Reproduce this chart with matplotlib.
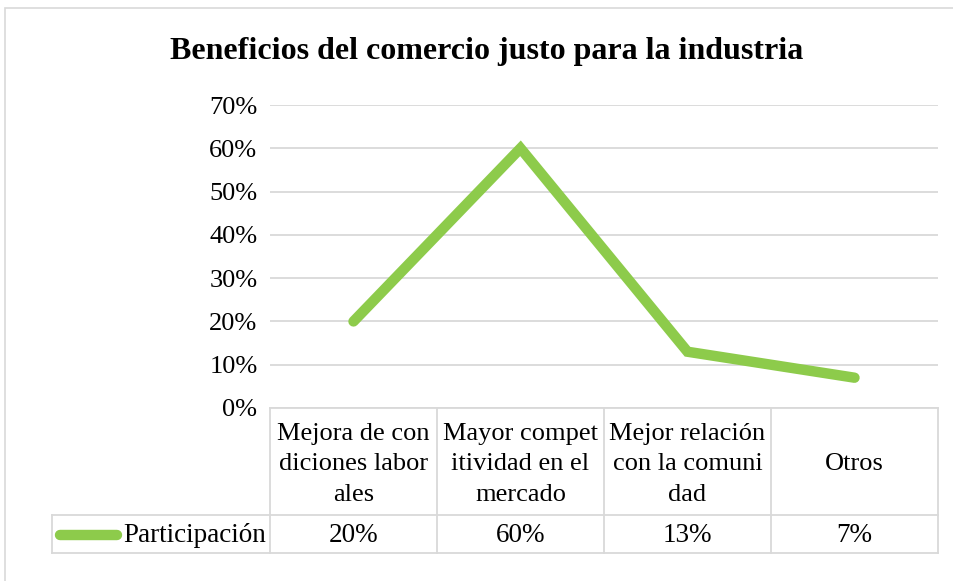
import matplotlib
matplotlib.use("Agg")
import matplotlib.pyplot as plt
from matplotlib.patches import Rectangle
from matplotlib.lines import Line2D

categories = ["Mejora de con\ndiciones labor\nales",
              "Mayor compet\nitividad en el\nmercado",
              "Mejor relación\ncon la comuni\ndad",
              "Otros"]
values = [0.20, 0.60, 0.13, 0.07]
value_labels = ["20%", "60%", "13%", "7%"]
series_name = "Participación"
title = "Beneficios del comercio justo para la industria"

green = "#8DCB4B"
grid = "#D9D9D9"
W, H = 954, 581
plt.rcParams['font.family'] = ['Liberation Serif', 'DejaVu Serif']

fig = plt.figure(figsize=(W / 100, H / 100), dpi=100)

def fx(px):
    return px / W

def fy(py):
    return 1 - py / H

# plot area in pixels
x0, x1, ytop, ybot = 270, 938, 105, 408
ax = fig.add_axes([fx(x0), fy(ybot), fx(x1) - fx(x0), fy(ytop) - fy(ybot)])
n = len(categories)
ax.set_xlim(0, n)
ax.set_ylim(0, 0.7)
ax.set_yticks([i / 10 for i in range(8)])
ax.set_yticklabels(["%d%%" % (i * 10) for i in range(8)], fontsize=19)
ax.tick_params(axis='y', length=0, pad=9)
ax.set_xticks([])
for s in ax.spines.values():
    s.set_visible(False)
ax.grid(axis='y', color=grid, linewidth=1.3)
ax.set_axisbelow(True)
xs = [i + 0.5 for i in range(n)]
ax.plot(xs, values, color=green, linewidth=7.5, solid_capstyle='round',
        solid_joinstyle='miter', clip_on=False)

fig.text(fx(487), fy(51), title, ha='center', va='center', fontsize=23,
         fontweight='bold')

# data table under the chart
lw = 1.3
col_edges = [x0 + (x1 - x0) * i / n for i in range(n + 1)]
row_mid, row_bot, tab_left = 515, 553, 52
for xe in col_edges:
    fig.add_artist(Line2D([fx(xe), fx(xe)], [fy(ybot), fy(row_bot)], color=grid, lw=lw))
fig.add_artist(Line2D([fx(tab_left), fx(tab_left)], [fy(row_mid), fy(row_bot)], color=grid, lw=lw))
fig.add_artist(Line2D([fx(x0), fx(x1)], [fy(ybot), fy(ybot)], color=grid, lw=lw))
for yy in (row_mid, row_bot):
    fig.add_artist(Line2D([fx(tab_left), fx(x1)], [fy(yy), fy(yy)], color=grid, lw=lw))

for i, cat in enumerate(categories):
    cx = (col_edges[i] + col_edges[i + 1]) / 2
    fig.text(fx(cx), fy((ybot + row_mid) / 2 + 3), cat, ha='center', va='center',
             fontsize=19, linespacing=1.5)
    fig.text(fx(cx), fy((row_mid + row_bot) / 2 + 1), value_labels[i], ha='center',
             va='center', fontsize=19.5)

fig.add_artist(Line2D([fx(60), fx(117)], [fy(535), fy(535)], color=green, lw=7.5,
                      solid_capstyle='round'))
fig.text(fx(123), fy(535), series_name, ha='left', va='center', fontsize=19.5)

# chart border
fig.add_artist(Rectangle((fx(5), -0.1), 1.2, fy(8) + 0.1, fill=False,
                         edgecolor="#D9D9D9", lw=1.2, transform=fig.transFigure))

fig.savefig("out.png", dpi=100, facecolor="white")
